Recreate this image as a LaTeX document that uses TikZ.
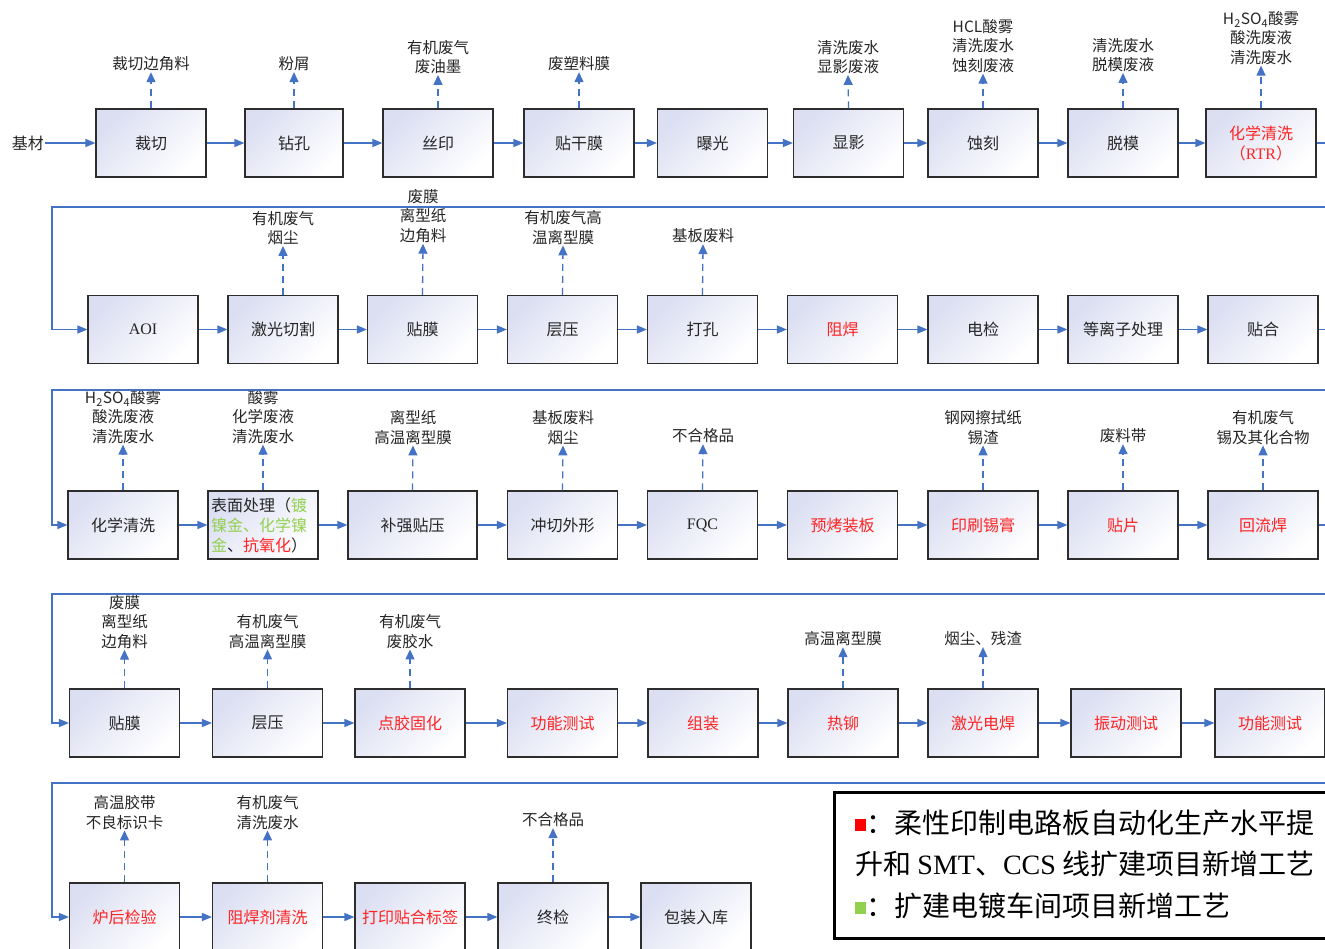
\documentclass[tikz,border=0pt]{standalone}
\usepackage{fontspec}
\setmainfont{Noto Sans CJK SC}
\newfontfamily\lat{Liberation Serif}
\usetikzlibrary{arrows.meta}
\definecolor{lineblue}{RGB}{68,114,196}
\definecolor{lav}{RGB}{220,223,242}
\definecolor{tred}{RGB}{255,35,35}
\definecolor{tgreen}{RGB}{146,208,80}
\definecolor{bord}{RGB}{45,45,45}
\newcommand{\bxfont}{\fontsize{16}{20}\selectfont}
\newcommand{\lbfont}{\fontsize{15.5}{19.5}\selectfont}
\newcommand{\lgfont}{\fontsize{28}{32}\selectfont}
\newcommand{\hso}{H\textsubscript{2}SO\textsubscript{4}}
\tikzset{
  box/.style={draw=bord, line width=1.2pt, minimum width=110pt, minimum height=68pt,
    inner sep=0pt, top color=lav, bottom color=white, shading angle=45,
    font=\bxfont, align=center, text=black!85},
  flow/.style={draw=lineblue, line width=1.4pt, -{Triangle[length=10pt,width=8pt]}},
  emit/.style={draw=lineblue, line width=1.3pt, dash pattern=on 7pt off 5pt,
    -{Triangle[length=10pt,width=9pt]}},
  lbl/.style={font=\lbfont, align=center, inner sep=0pt, outer sep=1pt, text=black!85},
}
\begin{document}
\begin{tikzpicture}[x=1pt,y=-1pt]
\clip (0,0) rectangle (1325,949);
\fill[white] (0,0) rectangle (1325,949);

% ---------------- Row 1 ----------------
\node[font=\bxfont, text=black!85, inner sep=1pt] (in) at (28,143) {基材};
\node[box] (b11) at (151,143) {裁切};
\node[box, minimum width=98pt] (b12) at (294,143) {钻孔};
\node[box] (b13) at (438,143) {丝印};
\node[box] (b14) at (579,143) {贴干膜};
\node[box] (b15) at (712.5,143) {曝光};
\node[box] (b16) at (848.5,143) {显影};
\node[box] (b17) at (983,143) {蚀刻};
\node[box] (b18) at (1123,143) {脱模};
\node[box, text=tred] (b19) at (1261,143) {化学清洗\\（{\lat RTR}）};

\node[lbl] (l11) at (151,64) {裁切边角料};
\node[lbl] (l12) at (294,64) {粉屑};
\node[lbl] (l13) at (438,57) {有机废气\\废油墨};
\node[lbl] (l14) at (579,64) {废塑料膜};
\node[lbl] (l16) at (848,57) {清洗废水\\显影废液};
\node[lbl] (l17) at (983,46) {HCL酸雾\\清洗废水\\蚀刻废液};
\node[lbl] (l18) at (1123,55) {清洗废水\\脱模废液};
\node[lbl] (l19) at (1261,38) {\hso 酸雾\\酸洗废液\\清洗废水};

% ---------------- Row 2 ----------------
\node[box] (b21) at (143,329.5) {{\lat AOI}};
\node[box] (b22) at (283,329.5) {激光切割};
\node[box] (b23) at (422.5,329.5) {贴膜};
\node[box] (b24) at (562.5,329.5) {层压};
\node[box] (b25) at (702.5,329.5) {打孔};
\node[box, text=tred] (b26) at (842.5,329.5) {阻焊};
\node[box] (b27) at (983,329.5) {电检};
\node[box] (b28) at (1123,329.5) {等离子处理};
\node[box] (b29) at (1263,329.5) {贴合};

\node[lbl] (l22) at (283,228) {有机废气\\烟尘};
\node[lbl] (l23) at (423,216) {废膜\\离型纸\\边角料};
\node[lbl] (l24) at (563,227.5) {有机废气高\\温离型膜};
\node[lbl] (l25) at (703,236) {基板废料};

% ---------------- Row 3 ----------------
\node[box] (b31) at (123,525) {化学清洗};
\node[box, align=left, text width=104pt] (b32) at (263,525)
  {表面处理（\textcolor{tgreen}{镀}\\\textcolor{tgreen}{镍金、化学镍}\\\textcolor{tgreen}{金}、\textcolor{tred}{抗氧化}）};
\node[box, minimum width=129pt] (b33) at (412.5,525) {补强贴压};
\node[box] (b34) at (562.5,525) {冲切外形};
\node[box] (b35) at (702.5,525) {{\lat FQC}};
\node[box, text=tred] (b36) at (842.5,525) {预烤装板};
\node[box, text=tred] (b37) at (983,525) {印刷锡膏};
\node[box, text=tred] (b38) at (1123,525) {贴片};
\node[box, text=tred] (b39) at (1263,525) {回流焊};

\node[lbl] (l31) at (123,417) {\hso 酸雾\\酸洗废液\\清洗废水};
\node[lbl] (l32) at (263,417) {酸雾\\化学废液\\清洗废水};
\node[lbl] (l33) at (413,427.5) {离型纸\\高温离型膜};
\node[lbl] (l34) at (563,427.5) {基板废料\\烟尘};
\node[lbl] (l35) at (703,436) {不合格品};
\node[lbl] (l37) at (983,427.5) {钢网擦拭纸\\锡渣};
\node[lbl] (l38) at (1123,436) {废料带};
\node[lbl] (l39) at (1263,427.5) {有机废气\\锡及其化合物};

% ---------------- Row 4 ----------------
\node[box] (b41) at (124.5,723) {贴膜};
\node[box] (b42) at (267.5,723) {层压};
\node[box, text=tred] (b43) at (410,723) {点胶固化};
\node[box, text=tred] (b44) at (562.5,723) {功能测试};
\node[box, text=tred] (b45) at (703,723) {组装};
\node[box, text=tred] (b46) at (843,723) {热铆};
\node[box, text=tred] (b47) at (983,723) {激光电焊};
\node[box, text=tred] (b48) at (1126,723) {振动测试};
\node[box, text=tred] (b49) at (1270,723) {功能测试};

\node[lbl] (l41) at (124.5,622) {废膜\\离型纸\\边角料};
\node[lbl] (l42) at (267.5,631.5) {有机废气\\高温离型膜};
\node[lbl] (l43) at (410,631.5) {有机废气\\废胶水};
\node[lbl] (l46) at (843,639) {高温离型膜};
\node[lbl] (l47) at (983,639) {烟尘、残渣};

% ---------------- Row 5 ----------------
\node[box, text=tred] (b51) at (124.5,917) {炉后检验};
\node[box, text=tred] (b52) at (267.5,917) {阻焊剂清洗};
\node[box, text=tred] (b53) at (410,917) {打印贴合标签};
\node[box] (b54) at (553,917) {终检};
\node[box] (b55) at (696,917) {包装入库};

\node[lbl] (l51) at (124.5,812.5) {高温胶带\\不良标识卡};
\node[lbl] (l52) at (267.5,812.5) {有机废气\\清洗废水};
\node[lbl] (l54) at (553,820) {不合格品};

% ---------------- flows ----------------
\draw[flow] (in) -- (b11);
\foreach \a/\b in {b11/b12,b12/b13,b13/b14,b14/b15,b15/b16,b16/b17,b17/b18,b18/b19,
  b21/b22,b22/b23,b23/b24,b24/b25,b25/b26,b26/b27,b27/b28,b28/b29,
  b31/b32,b32/b33,b33/b34,b34/b35,b35/b36,b36/b37,b37/b38,b38/b39,
  b41/b42,b42/b43,b43/b44,b44/b45,b45/b46,b46/b47,b47/b48,b48/b49,
  b51/b52,b52/b53,b53/b54,b54/b55}
  \draw[flow] (\a) -- (\b);

\coordinate (r1) at (1345,207); \coordinate (k1) at (52,207);
\coordinate (r2) at (1345,390); \coordinate (k2) at (52,390);
\coordinate (r3) at (1345,594); \coordinate (k3) at (52,594);
\coordinate (r4) at (1345,783); \coordinate (k4) at (52,783);
\draw[flow] (b19.east) -| (r1) -- (k1) |- (b21.west);
\draw[flow] (b29.east) -| (r2) -- (k2) |- (b31.west);
\draw[flow] (b39.east) -| (r3) -- (k3) |- (b41.west);
\draw[flow] (b49.east) -| (r4) -- (k4) |- (b51.west);

% ---------------- emissions ----------------
\foreach \b/\l in {b11/l11,b12/l12,b13/l13,b14/l14,b16/l16,b17/l17,b18/l18,b19/l19,
  b22/l22,b23/l23,b24/l24,b25/l25,
  b31/l31,b32/l32,b33/l33,b34/l34,b35/l35,b37/l37,b38/l38,b39/l39,
  b41/l41,b42/l42,b43/l43,b46/l46,b47/l47,
  b51/l51,b52/l52,b54/l54}
  \draw[emit] (\b.north) -- (\l.south);

% ---------------- legend ----------------
\node[draw=black, line width=2.5pt, minimum width=530pt, minimum height=146pt,
  anchor=north west, inner sep=0pt] (leg) at (833,791) {};
\node[anchor=west, font=\lgfont, inner sep=0pt] (lg1) at (855,823)
  {\textcolor{red}{\rule[3pt]{11pt}{12pt}}：柔性印制电路板自动化生产水平提};
\node[anchor=west, font=\lgfont, inner sep=0pt] (lg2) at (855,864)
  {升和 {\lat SMT}、{\lat CCS} 线扩建项目新增工艺};
\node[anchor=west, font=\lgfont, inner sep=0pt] (lg3) at (855,906)
  {\textcolor{tgreen}{\rule[3pt]{11pt}{12pt}}：扩建电镀车间项目新增工艺};
\end{tikzpicture}
\end{document}
